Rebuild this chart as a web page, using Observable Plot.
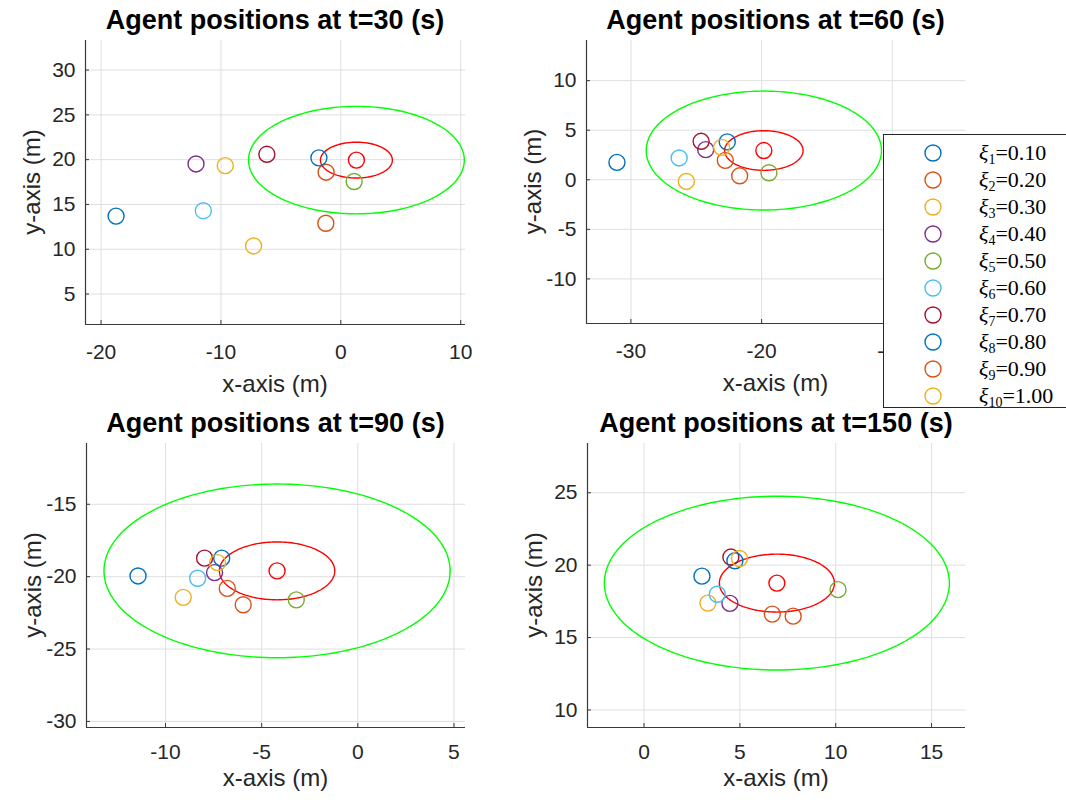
<!DOCTYPE html>
<html><head><meta charset="utf-8">
<script src="https://cdn.jsdelivr.net/npm/d3@7"></script>
<script src="https://cdn.jsdelivr.net/npm/@observablehq/plot@0.6"></script>
<style>
body{margin:0;background:#fff;}
#fig{position:relative;width:1066px;height:804px;overflow:hidden;background:#fff;font-family:"Liberation Sans",Arial,Helvetica,sans-serif;}
.panel{position:absolute;}
#overlay{position:absolute;left:0;top:0;}
#legend{position:absolute;left:883px;top:134px;width:200px;height:274px;border:1px solid #262626;background:#fff;box-sizing:border-box;}
.lrow{position:absolute;left:0;height:27px;width:200px;}
.lrow svg{position:absolute;left:39px;top:4px;}
.ltxt{position:absolute;left:95px;top:0;font-family:"Liberation Serif","Times New Roman",serif;font-size:22px;line-height:27px;color:#000;white-space:nowrap;}
.ltxt i{font-style:italic;}
.ltxt sub{font-size:14px;vertical-align:-4px;line-height:0;}
</style></head>
<body><div id="fig"></div>
<script>
// ---------------- data ----------------
const times = [30, 60, 90, 150];
const xiValues = ["0.10","0.20","0.30","0.40","0.50","0.60","0.70","0.80","0.90","1.00"];
const agentColors = ["#0072BD","#D95319","#EDB120","#7E2F8E","#77AC30","#4DBEEE","#A2142F","#0072BD","#D95319","#EDB120"];

// agent positions (xi_1 ... xi_10) at each time
const agentX30  = [-18.75, -1.23, -9.64, -12.08, 1.11, -11.47, -6.17, -1.83, -1.25, -7.28];
const agentY30  = [13.7, 18.6, 19.33, 19.52, 17.56, 14.3, 20.6, 20.2, 12.9, 10.37];
const agentX60  = [-31.07, -22.78, -25.76, -24.28, -19.44, -26.31, -24.63, -22.63, -21.68, -23.06];
const agentY60  = [1.75, 1.96, -0.17, 3.04, 0.71, 2.2, 3.88, 3.82, 0.4, 3.27];
const agentX90  = [-11.43, -6.79, -9.08, -7.45, -3.2, -8.33, -7.97, -7.08, -5.96, -7.29];
const agentY90  = [-19.95, -20.81, -21.43, -19.72, -21.6, -20.11, -18.72, -18.72, -21.94, -19.03];
const agentX150 = [3.02, 6.69, 3.33, 4.48, 10.12, 3.82, 4.53, 4.74, 7.78, 4.98];
const agentY150 = [19.24, 16.62, 17.38, 17.36, 18.31, 17.99, 20.56, 20.3, 16.48, 20.46];

// target (red) position at each time
const targetX = [1.3, -19.83, -4.2, 6.93];
const targetY = [19.95, 2.95, -19.6, 18.76];

// ellipse semi-axes around target: inner (red), outer (green)
const innerSemi = [3, 2];
const outerSemi = [9, 6];

// axis limits and ticks
const xLims = [[-21.3, 10.4], [-33.4, -4.4], [-14.11, 5.6], [-2.95, 16.77]];
const yLims = [[1.6, 33.3], [-14.5, 14.05], [-30.42, -10.8], [8.79, 28.4]];
const xTicks = [[-20, -10, 0, 10], [-30, -20, -10], [-10, -5, 0, 5], [0, 5, 10, 15]];
const yTicks = [[5, 10, 15, 20, 25, 30], [-10, -5, 0, 5, 10], [-30, -25, -20, -15], [10, 15, 20, 25]];

const agentXs = [agentX30, agentX60, agentX90, agentX150];
const agentYs = [agentY30, agentY60, agentY90, agentY150];

// ---------------- layout ----------------
const panels = [
  {left: 0,   top: 0,   ml: 85, mt: 40, aw: 380, ah: 284, xpad: 20},
  {left: 533, top: 0,   ml: 53, mt: 40, aw: 379, ah: 283, xpad: 20},
  {left: 0,   top: 402, ml: 86, mt: 41, aw: 379, ah: 284, xpad: 17},
  {left: 533, top: 402, ml: 54, mt: 41, aw: 378, ah: 284, xpad: 17}
];
const W = 533, H = 402;
const FONT = '"Liberation Sans",Arial,Helvetica,sans-serif';
const fig = document.getElementById("fig");
const fmt = d => String(d);

function ellipsePts(cx, cy, a, b) {
  const n = 180;
  return d3.range(n + 1).map(s => {
    const th = 2 * Math.PI * s / n;
    return {x: cx + a * Math.cos(th), y: cy + b * Math.sin(th)};
  });
}

panels.forEach((p, i) => {
  const pts = agentXs[i].map((x, j) => ({x, y: agentYs[i][j], c: agentColors[j]}));
  const tgt = [{x: targetX[i], y: targetY[i]}];
  const svg = Plot.plot({
    width: W, height: H,
    marginLeft: p.ml, marginTop: p.mt,
    marginRight: W - p.ml - p.aw, marginBottom: H - p.mt - p.ah,
    x: {domain: xLims[i]},
    y: {domain: yLims[i]},
    color: {type: "identity"},
    style: {fontFamily: FONT, background: "transparent", overflow: "visible", maxWidth: "none", color: "#262626"},
    marks: [
      Plot.gridX(xTicks[i], {stroke: "#dfdfdf", strokeOpacity: 1, strokeWidth: 1}),
      Plot.gridY(yTicks[i], {stroke: "#dfdfdf", strokeOpacity: 1, strokeWidth: 1}),
      Plot.ruleX([xLims[i][0]], {stroke: "#3a3a3a", strokeWidth: 1.2}),
      Plot.ruleY([yLims[i][0]], {stroke: "#3a3a3a", strokeWidth: 1.2}),
      Plot.axisX(xTicks[i], {anchor: "bottom", tickSize: 0, tickPadding: p.xpad, fontSize: 21, label: null, fill: "#262626", tickFormat: fmt}),
      Plot.axisX(xTicks[i], {anchor: "bottom", tickSize: 4, dy: -4, tickFormat: () => "", label: null, stroke: "#3a3a3a"}),
      Plot.axisY(yTicks[i], {anchor: "left", tickSize: 0, tickPadding: 10, fontSize: 21, label: null, fill: "#262626", tickFormat: fmt}),
      Plot.axisY(yTicks[i], {anchor: "left", tickSize: 4, dx: 4, tickFormat: () => "", label: null, stroke: "#3a3a3a"}),
      Plot.line(ellipsePts(targetX[i], targetY[i], outerSemi[0], outerSemi[1]), {x: "x", y: "y", stroke: "#00ff00", strokeWidth: 1.4}),
      Plot.line(ellipsePts(targetX[i], targetY[i], innerSemi[0], innerSemi[1]), {x: "x", y: "y", stroke: "#ff0000", strokeWidth: 1.4}),
      Plot.dot(pts, {x: "x", y: "y", r: 8, stroke: "c", fill: "none", strokeWidth: 1.4}),
      Plot.dot(tgt, {x: "x", y: "y", r: 8, stroke: "#ff0000", fill: "none", strokeWidth: 1.4})
    ]
  });
  const div = document.createElement("div");
  div.className = "panel";
  div.style.left = p.left + "px";
  div.style.top = p.top + "px";
  div.style.width = W + "px";
  div.style.height = H + "px";
  div.appendChild(svg);
  fig.appendChild(div);
});

// ---------------- titles and axis labels ----------------
const NS = "http://www.w3.org/2000/svg";
const ov = document.createElementNS(NS, "svg");
ov.setAttribute("id", "overlay");
ov.setAttribute("width", 1066);
ov.setAttribute("height", 804);
function addText(txt, x, y, opts) {
  const t = document.createElementNS(NS, "text");
  t.textContent = txt;
  t.setAttribute("x", x);
  t.setAttribute("y", y);
  t.setAttribute("text-anchor", "middle");
  t.setAttribute("dominant-baseline", "central");
  t.setAttribute("font-family", FONT);
  t.setAttribute("font-size", opts.size);
  t.setAttribute("fill", opts.fill || "#262626");
  if (opts.bold) t.setAttribute("font-weight", "bold");
  if (opts.rotate) t.setAttribute("transform", `rotate(-90 ${x} ${y})`);
  ov.appendChild(t);
}
const xlabelOff = [59, 59, 50, 50];
panels.forEach((p, i) => {
  const ax = p.left + p.ml, ay = p.top + p.mt;
  const cx = ax + p.aw / 2, cy = ay + p.ah / 2;
  addText(`Agent positions at t=${times[i]} (s)`, cx, ay - 20, {size: 27, bold: true, fill: "#000"});
  addText("x-axis (m)", cx, ay + p.ah + xlabelOff[i], {size: 24});
  addText("y-axis (m)", ax - 54, cy, {size: 24, rotate: true});
});
fig.appendChild(ov);

// ---------------- legend ----------------
const leg = document.createElement("div");
leg.id = "legend";
xiValues.forEach((v, j) => {
  const row = document.createElement("div");
  row.className = "lrow";
  row.style.top = (4 + j * 27.05) + "px";
  row.innerHTML = `<svg width="20" height="20"><circle cx="10" cy="10" r="8" fill="none" stroke="${agentColors[j]}" stroke-width="1.4"/></svg>` +
    `<span class="ltxt"><i>ξ</i><sub>${j + 1}</sub>=${v}</span>`;
  leg.appendChild(row);
});
fig.appendChild(leg);
</script>
</body></html>
